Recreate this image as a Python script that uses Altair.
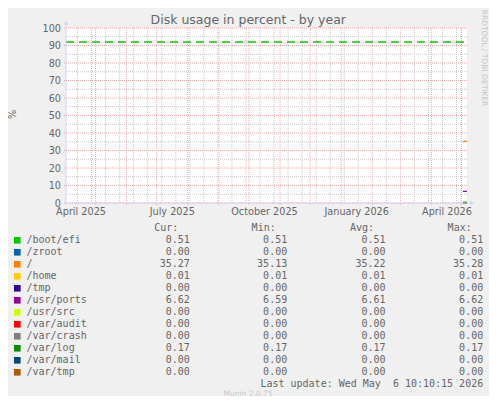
import altair as alt
import pandas as pd

TITLE = "Disk usage in percent - by year"
Y_LABEL = "%"
WATERMARK = "RRDTOOL / TOBI OETIKER"
LAST_UPDATE = "Last update: Wed May \u00a06 10:10:15 2026"
FOOTER = "Munin 2.0.75"

fields = ["/boot/efi", "/zroot", "/", "/home", "/tmp", "/usr/ports", "/usr/src",
          "/var/audit", "/var/crash", "/var/log", "/var/mail", "/var/tmp"]
colors = ["#00CC00", "#0066B3", "#FF8000", "#FFCC00", "#330099", "#990099", "#CCFF00",
          "#FF0000", "#808080", "#008F00", "#00487D", "#B35A00"]
cur = ["0.51", "0.00", "35.27", "0.01", "0.00", "6.62", "0.00", "0.00", "0.00", "0.17", "0.00", "0.00"]
mins = ["0.51", "0.00", "35.13", "0.01", "0.00", "6.59", "0.00", "0.00", "0.00", "0.17", "0.00", "0.00"]
avgs = ["0.51", "0.00", "35.22", "0.01", "0.00", "6.61", "0.00", "0.00", "0.00", "0.17", "0.00", "0.00"]
maxs = ["0.51", "0.00", "35.28", "0.01", "0.00", "6.62", "0.00", "0.00", "0.00", "0.17", "0.00", "0.00"]
col_heads = ["Cur:", "Min:", "Avg:", "Max:"]

sample_times = ["2026-05-02T12:00:00", "2026-05-03T12:00:00", "2026-05-04T12:00:00",
                "2026-05-05T12:00:00", "2026-05-06T10:00:00"]
series_values = {
    "/boot/efi": [0.51, 0.51, 0.51, 0.51, 0.51],
    "/zroot": [0.00, 0.00, 0.00, 0.00, 0.00],
    "/": [35.13, 35.19, 35.24, 35.28, 35.27],
    "/home": [0.01, 0.01, 0.01, 0.01, 0.01],
    "/tmp": [0.00, 0.00, 0.00, 0.00, 0.00],
    "/usr/ports": [6.59, 6.60, 6.61, 6.62, 6.62],
    "/usr/src": [0.00, 0.00, 0.00, 0.00, 0.00],
    "/var/audit": [0.00, 0.00, 0.00, 0.00, 0.00],
    "/var/crash": [0.00, 0.00, 0.00, 0.00, 0.00],
    "/var/log": [0.17, 0.17, 0.17, 0.17, 0.17],
    "/var/mail": [0.00, 0.00, 0.00, 0.00, 0.00],
    "/var/tmp": [0.00, 0.00, 0.00, 0.00, 0.00],
}
warn_level = 92

x_label_dates = ["2025-04-16", "2025-07-16", "2025-10-16", "2026-01-16", "2026-04-16"]
y_major = [0, 10, 20, 30, 40, 50, 60, 70, 80, 90, 100]
y_minor = [5, 15, 25, 35, 45, 55, 65, 75, 85, 95]
month_lines = pd.date_range("2025-05-01", "2026-05-01", freq="MS")
biweek_lines = [d for d in pd.date_range("2025-04-13", "2026-05-03", freq="14D") if d.day != 1]

# ---------------- layout constants ----------------
W, H = 401, 175
FONT = "DejaVu Sans"
MONO = "DejaVu Sans Mono"
TXT = "#666666"
AXIS_COL = "#CFD6F8"
GRID_COL = "#c6c6c6"
MGRID_COL = "#eeaaaa"
T0, T1 = "2025-04-01T12:00", "2026-05-06T12:00"


def dt(s):
    t = pd.Timestamp(s)
    return alt.DateTime(year=t.year, month=t.month, date=t.day, hours=t.hour, minutes=t.minute)


xscale = alt.Scale(domain=[dt(T0), dt(T1)], nice=False)
yscale = alt.Scale(domain=[0, 100], nice=False)
xaxis = alt.Axis(values=[dt(d) for d in x_label_dates], format="%B %Y", grid=False, ticks=False,
                 tickSize=0, domain=False, labelFont=FONT, labelFontSize=9.7, labelColor=TXT,
                 labelBaseline="alphabetic", labelPadding=11.5, labelAlign="center", title="")
yaxis = alt.Axis(values=y_major, grid=False, ticks=False, tickSize=0, domain=False,
                 labelFont=FONT, labelFontSize=9.7, labelColor=TXT, labelPadding=5.5,
                 labelBaseline="middle", title=Y_LABEL, titleAngle=270, titleX=-54, titleY=86,
                 titleAlign="center", titleBaseline="middle", titleFont=FONT, titleFontSize=9.7,
                 titleFontWeight="normal", titleColor=TXT)

X = lambda: alt.X("t:T", scale=xscale, axis=xaxis)
Y = lambda: alt.Y("v:Q", scale=yscale, axis=yaxis)

# gridlines
minor_h = alt.Chart(pd.DataFrame({"v": y_minor})).mark_rule(
    color=GRID_COL, strokeDash=[1, 1], strokeWidth=1).encode(
    y=Y(), x=alt.value(0), x2=alt.value(W))
minor_v = alt.Chart(pd.DataFrame({"t": biweek_lines})).mark_rule(
    color=GRID_COL, strokeDash=[1, 1], strokeWidth=1).encode(
    x=X(), y=alt.value(0), y2=alt.value(H))
major_h = alt.Chart(pd.DataFrame({"v": y_major})).mark_rule(
    color=MGRID_COL, strokeDash=[1, 1], strokeWidth=1).encode(
    y=Y(), x=alt.value(-2), x2=alt.value(W))
major_v = alt.Chart(pd.DataFrame({"t": month_lines})).mark_rule(
    color=MGRID_COL, strokeDash=[1, 1], strokeWidth=1).encode(
    x=X(), y=alt.value(0), y2=alt.value(H + 3))

# data
rows = []
for f in fields:
    for t, v in zip(sample_times, series_values[f]):
        rows.append({"t": t, "v": v, "field": f})
df_lines = pd.DataFrame(rows)
lines = alt.Chart(df_lines).mark_line(strokeWidth=1.3).encode(
    x=X(), y=Y(),
    color=alt.Color("field:N", scale=alt.Scale(domain=fields, range=colors), legend=None),
    order=alt.Order("t:T"))

warn = alt.Chart(pd.DataFrame({"t": [T0, T1], "v": [warn_level, warn_level]})).mark_line(
    color="#00CC00", strokeDash=[8, 5], strokeWidth=1.6).encode(x=X(), y=Y())

# axes lines + arrows
axis_b = alt.Chart(pd.DataFrame({"v": [0]})).mark_rule(color=AXIS_COL, strokeWidth=1).encode(
    y=Y(), x=alt.value(-2), x2=alt.value(W + 2))
axis_l = alt.Chart(pd.DataFrame({"t": [T0]})).mark_rule(
    color=AXIS_COL, strokeWidth=1).encode(x=X(), y=alt.value(H + 2), y2=alt.value(-3))
arrow_r = alt.Chart(pd.DataFrame({"v": [0]})).mark_point(
    shape="triangle-right", filled=True, size=24, color=AXIS_COL, opacity=1).encode(
    y=Y(), x=alt.value(W + 5))
arrow_u = alt.Chart(pd.DataFrame({"t": [T0]})).mark_point(
    shape="triangle-up", filled=True, size=24, color=AXIS_COL, opacity=1).encode(
    x=X(), y=alt.value(-5))

watermark = alt.Chart(pd.DataFrame({"s": [WATERMARK]})).mark_text(
    angle=90, font=FONT, fontSize=7.5, color="#c4c4c4", align="center", baseline="middle").encode(
    text="s:N", x=alt.value(418.3), y=alt.value(30))

title = alt.Chart(pd.DataFrame({"s": [TITLE]})).mark_text(
    font=FONT, fontSize=12.5, color=TXT, align="center", baseline="alphabetic").encode(
    text="s:N", x=alt.value(182.3), y=alt.value(-4))

main = alt.layer(minor_h, minor_v, major_h, major_v, lines, warn, axis_b, axis_l,
                 arrow_r, arrow_u, watermark, title)

# legend table
leg_df = pd.DataFrame({"field": fields, "row": list(range(len(fields))),
                       "cur": cur, "min": mins, "avg": avgs, "max": maxs})
ROW_Y = alt.Y("row:O", scale=alt.Scale(type="point", domain=list(range(len(fields))),
                                        range=[215.3, 215.3 + 12 * (len(fields) - 1)], padding=0),
              axis=None)
leg_base = alt.Chart(leg_df)
leg_layers = [
    leg_base.mark_square(size=44, opacity=1, yOffset=-3).encode(
        y=ROW_Y, x=alt.value(-48.7),
        fill=alt.Fill("field:N", scale=alt.Scale(domain=fields, range=colors), legend=None)),
    leg_base.mark_text(align="left", baseline="alphabetic", font=MONO, fontSize=10, color=TXT).encode(
        y=ROW_Y, x=alt.value(-39.5), text="field:N"),
]
col_right = [123.8, 221.2, 319.5, 417.2]
for key, xr, head in zip(["cur", "min", "avg", "max"], col_right, col_heads):
    leg_layers.append(leg_base.mark_text(align="right", baseline="alphabetic", font=MONO,
                                         fontSize=10, color=TXT).encode(
        y=ROW_Y, x=alt.value(xr), text=f"{key}:N"))
    leg_layers.append(alt.Chart(pd.DataFrame({"s": [head]})).mark_text(
        align="right", baseline="alphabetic", font=MONO, fontSize=10, color=TXT).encode(
        text="s:N", x=alt.value(xr - 11.5), y=alt.value(203)))
leg_layers.append(alt.Chart(pd.DataFrame({"s": [LAST_UPDATE]})).mark_text(
    align="right", baseline="alphabetic", font=MONO, fontSize=10, color=TXT).encode(
    text="s:N", x=alt.value(417.2), y=alt.value(359.3)))
leg_layers.append(alt.Chart(pd.DataFrame({"s": [FOOTER]})).mark_text(
    align="center", baseline="alphabetic", font=FONT, fontSize=7.5, color="#c8c8c8").encode(
    text="s:N", x=alt.value(182), y=alt.value(367.5)))
legend_layer = alt.layer(*leg_layers)

chart = alt.layer(main, legend_layer).resolve_scale(y="independent").properties(
    width=W, height=H,
    padding={"left": 58, "top": 20, "right": 22, "bottom": 193},
    autosize=alt.AutoSizeParams(type="none"),
    background="#F0F0F0",
).configure_view(fill="white", strokeWidth=0)

chart.save("out.html", embed_options={"renderer": "svg", "actions": False})
